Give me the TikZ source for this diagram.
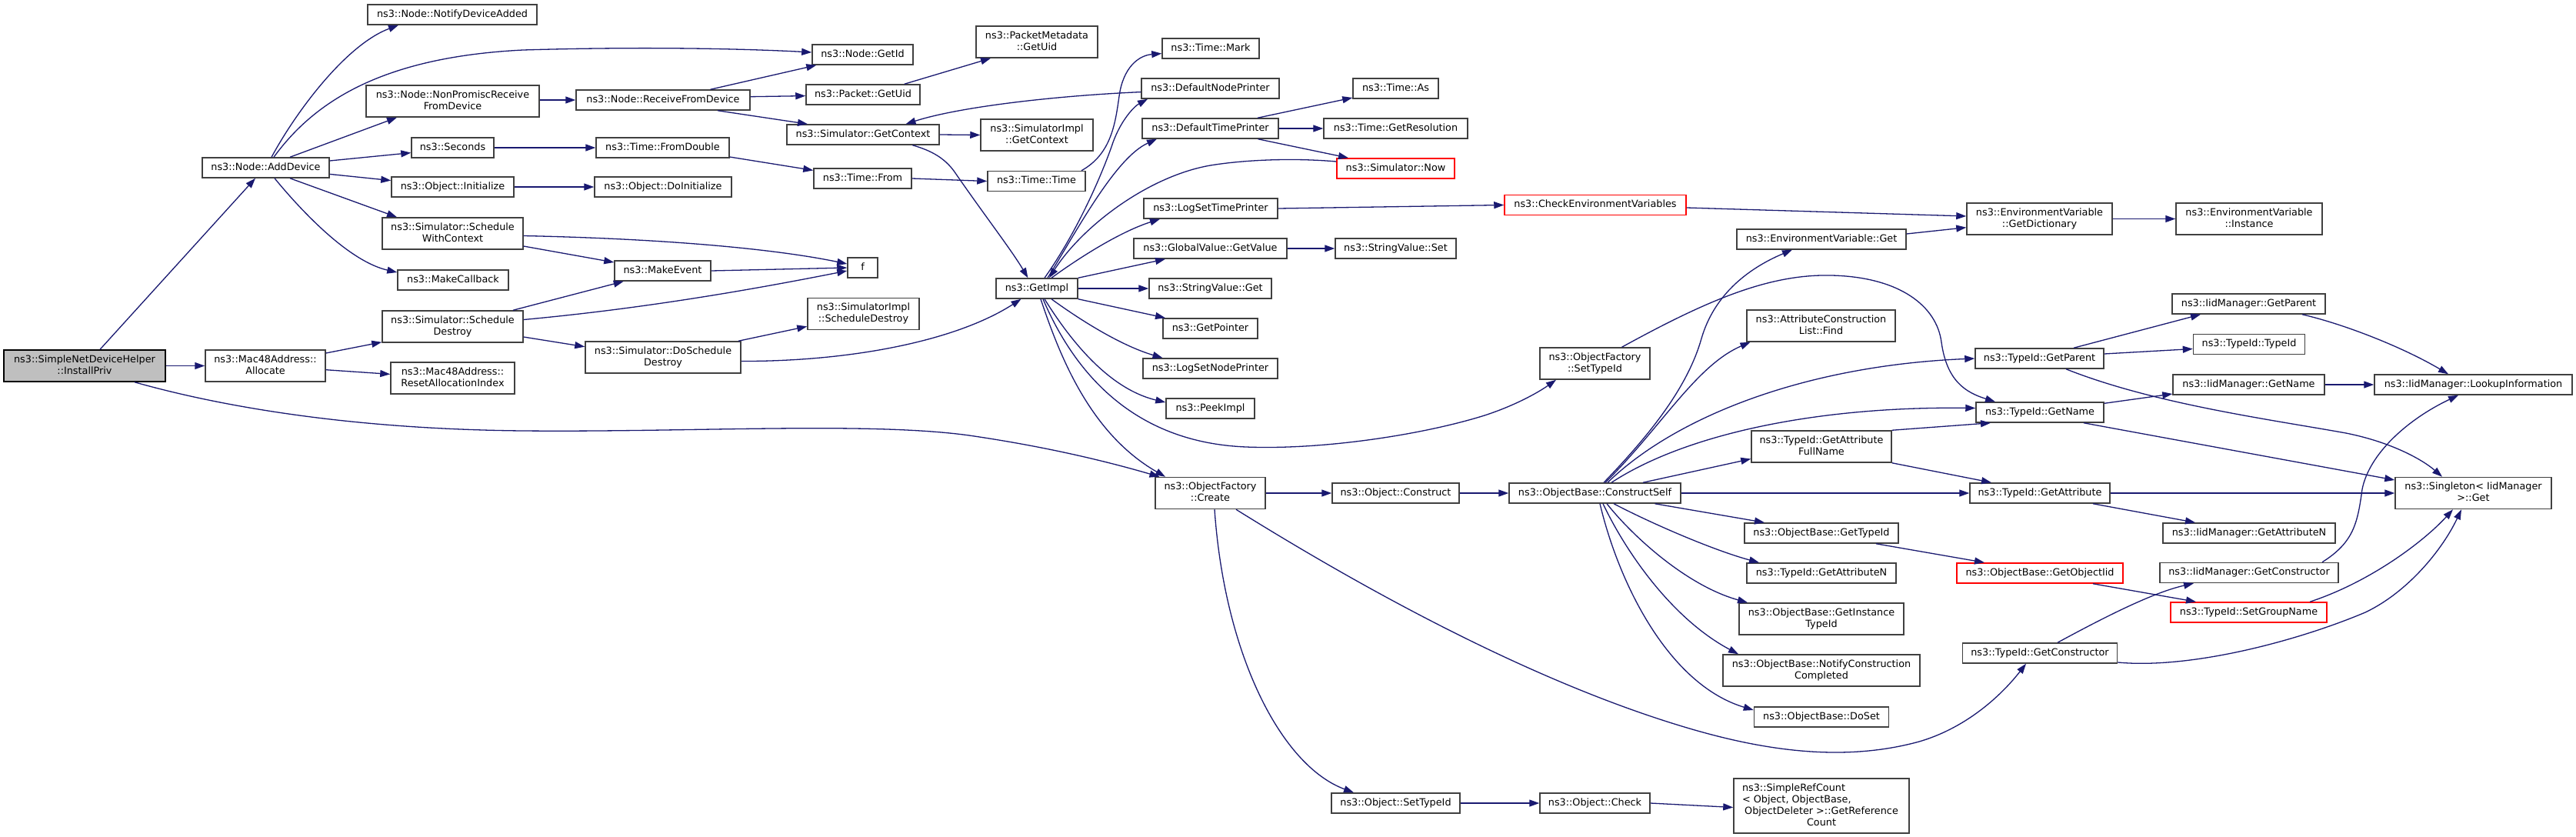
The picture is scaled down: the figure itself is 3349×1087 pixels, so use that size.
\documentclass[tikz,border=0pt]{standalone}
\usepackage{fontspec}
\usetikzlibrary{arrows.meta}
\newfontfamily\dv{DejaVu Sans}
\definecolor{edgeblue}{HTML}{191970}
\definecolor{boxgray}{HTML}{404040}
\definecolor{rootgray}{HTML}{BFBFBF}
\newcommand\ms{\rule[-4.1pt]{0pt}{15pt}}
\tikzset{
  nbox/.style={draw=boxgray, fill=white, line width=1.5pt, inner sep=0pt, align=center,
    font=\dv\fontsize{12.8}{15}\selectfont, minimum height=26pt},
  nb/.style={nbox, minimum width=#1},
  tl/.style={minimum height=41pt},
  rd/.style={draw=red},
  ed/.style={draw=edgeblue, line width=1.3pt, -{Triangle[length=13pt,width=9pt]}},
}
\begin{document}
\begin{tikzpicture}[x=1pt,y=-1pt]
\fill[white] (0,0) rectangle (3349,1087);
\useasboundingbox (0,0) rectangle (3349,1087);
% column 1-2
\node[nb=210pt,tl,fill=rootgray,draw=black] (root) at (110,475.5) {\ms ns3::SimpleNetDeviceHelper\\\ms ::InstallPriv};
\node[nb=165pt] (add) at (345.5,218) {\ms ns3::Node::AddDevice};
\node[nb=156pt,tl] (alloc) at (345,475.5) {\ms ns3::Mac48Address::\\\ms Allocate};
% column 3
\node[nb=220pt] (notify) at (588,19) {\ms ns3::Node::NotifyDeviceAdded};
\node[nb=225pt,tl] (nonprom) at (588.5,131.5) {\ms ns3::Node::NonPromiscReceive\\\ms FromDevice};
\node[nb=107pt] (sec) at (588.5,192) {\ms ns3::Seconds};
\node[nb=159pt] (init) at (588.5,243) {\ms ns3::Object::Initialize};
\node[nb=183pt,tl] (swc) at (588.5,303.5) {\ms ns3::Simulator::Schedule\\\ms WithContext};
\node[nb=144pt] (mcb) at (589,364) {\ms ns3::MakeCallback};
\node[nb=183pt,tl] (sd) at (588.5,424.5) {\ms ns3::Simulator::Schedule\\\ms Destroy};
\node[nb=161pt,tl] (reset) at (588.5,491.5) {\ms ns3::Mac48Address::\\\ms ResetAllocationIndex};
% column 4
\node[nb=226pt] (rfd) at (862,130) {\ms ns3::Node::ReceiveFromDevice};
\node[nb=173pt] (fromd) at (861.5,192) {\ms ns3::Time::FromDouble};
\node[nb=178pt] (doinit) at (862,243) {\ms ns3::Object::DoInitialize};
\node[nb=125pt] (mev) at (861.5,352) {\ms ns3::MakeEvent};
\node[nb=202pt,tl] (dsd) at (862,464.5) {\ms ns3::Simulator::DoSchedule\\\ms Destroy};
% column 5
\node[nb=131pt] (getid) at (1121.5,71) {\ms ns3::Node::GetId};
\node[nb=148pt] (puid) at (1122,123) {\ms ns3::Packet::GetUid};
\node[nb=198pt] (sgc) at (1122,175) {\ms ns3::Simulator::GetContext};
\node[nb=127pt] (tfrom) at (1121.5,232) {\ms ns3::Time::From};
\node[nb=39pt] (f) at (1121.5,348) {\ms f};
\node[nb=145pt,tl] (sisd) at (1122.5,408) {\ms ns3::SimulatorImpl\\\ms ::ScheduleDestroy};
% column 6
\node[nb=158pt,tl] (pmuid) at (1348,54.5) {\ms ns3::PacketMetadata\\\ms ::GetUid};
\node[nb=146pt,tl] (sigc) at (1348,175.5) {\ms ns3::SimulatorImpl\\\ms ::GetContext};
\node[nb=127pt] (ttime) at (1347.5,235.5) {\ms ns3::Time::Time};
\node[nb=106pt] (getimpl) at (1348,375) {\ms ns3::GetImpl};
% column 7
\node[nb=126pt] (mark) at (1574,63) {\ms ns3::Time::Mark};
\node[nb=179pt] (dnp) at (1573.5,115) {\ms ns3::DefaultNodePrinter};
\node[nb=177pt] (dtp) at (1573.5,167) {\ms ns3::DefaultTimePrinter};
\node[nb=174pt] (lstp) at (1574,271) {\ms ns3::LogSetTimePrinter};
\node[nb=199pt] (gvgv) at (1573.5,323) {\ms ns3::GlobalValue::GetValue};
\node[nb=159pt] (svget) at (1573.5,375) {\ms ns3::StringValue::Get};
\node[nb=123pt] (gptr) at (1573.5,427) {\ms ns3::GetPointer};
\node[nb=175pt] (lsnp) at (1573.5,479) {\ms ns3::LogSetNodePrinter};
\node[nb=115pt] (peek) at (1573.5,531) {\ms ns3::PeekImpl};
\node[nb=143pt,tl] (create) at (1573.5,641) {\ms ns3::ObjectFactory\\\ms ::Create};
% column 8
\node[nb=111pt] (tas) at (1814.5,115) {\ms ns3::Time::As};
\node[nb=187pt] (gres) at (1814.5,167) {\ms ns3::Time::GetResolution};
\node[nb=153pt,rd] (now) at (1814.5,219) {\ms ns3::Simulator::Now};
\node[nb=157pt] (svset) at (1814.5,323) {\ms ns3::StringValue::Set};
\node[nb=165pt] (oconst) at (1814.5,641) {\ms ns3::Object::Construct};
\node[nb=167pt] (osti) at (1814.5,1044) {\ms ns3::Object::SetTypeId};
% column 9
\node[nb=236pt,rd] (cev) at (2074,266.5) {\ms ns3::CheckEnvironmentVariables};
\node[nb=143pt,tl] (ofsti) at (2073.5,472.5) {\ms ns3::ObjectFactory\\\ms ::SetTypeId};
\node[nb=223pt] (cself) at (2073.5,641) {\ms ns3::ObjectBase::ConstructSelf};
\node[nb=143pt] (ocheck) at (2073.5,1044) {\ms ns3::Object::Check};
% column 10
\node[nb=220pt] (evget) at (2368,311) {\ms ns3::EnvironmentVariable::Get};
\node[nb=193pt,tl] (acl) at (2367.5,423.5) {\ms ns3::AttributeConstruction\\\ms List::Find};
\node[nb=182pt,tl] (gafn) at (2368,580.5) {\ms ns3::TypeId::GetAttribute\\\ms FullName};
\node[nb=200pt] (obgt) at (2368,693) {\ms ns3::ObjectBase::GetTypeId};
\node[nb=194pt] (tgan) at (2368,745) {\ms ns3::TypeId::GetAttributeN};
\node[nb=214pt,tl] (ogit) at (2368,804.5) {\ms ns3::ObjectBase::GetInstance\\\ms TypeId};
\node[nb=256pt,tl] (oncc) at (2368,871.5) {\ms ns3::ObjectBase::NotifyConstruction\\\ms Completed};
\node[nb=175pt] (doset) at (2368,932) {\ms ns3::ObjectBase::DoSet};
\node[nb=228pt,minimum height=71pt] (src) at (2368,1047.5) {\makebox[206pt][l]{\ms ns3::SimpleRefCount}\\\makebox[206pt][l]{\ms < Object, ObjectBase,}\\\ms ObjectDeleter >::GetReference\\\ms Count};
% column 11
\node[nb=189pt,tl] (gdict) at (2651.5,284.5) {\ms ns3::EnvironmentVariable\\\ms ::GetDictionary};
\node[nb=167pt] (tgp) at (2651.5,466) {\ms ns3::TypeId::GetParent};
\node[nb=166pt] (tgn) at (2652,536) {\ms ns3::TypeId::GetName};
\node[nb=182pt] (tga) at (2652,641) {\ms ns3::TypeId::GetAttribute};
\node[nb=216pt,rd] (goiid) at (2652,745) {\ms ns3::ObjectBase::GetObjectIid};
\node[nb=201pt] (tgc) at (2652,849) {\ms ns3::TypeId::GetConstructor};
% column 12
\node[nb=190pt,tl] (inst) at (2924,284.5) {\ms ns3::EnvironmentVariable\\\ms ::Instance};
\node[nb=199pt] (igp) at (2923.5,395) {\ms ns3::IidManager::GetParent};
\node[nb=145pt] (ttid) at (2924,447.5) {\ms ns3::TypeId::TypeId};
\node[nb=197pt] (ign) at (2923.5,500) {\ms ns3::IidManager::GetName};
\node[nb=224pt] (igan) at (2924,693) {\ms ns3::IidManager::GetAttributeN};
\node[nb=232pt] (igc) at (2924,744.5) {\ms ns3::IidManager::GetConstructor};
\node[nb=203pt,rd] (sgn) at (2923.5,796) {\ms ns3::TypeId::SetGroupName};
% column 13
\node[nb=257pt] (lookup) at (3215.5,500) {\ms ns3::IidManager::LookupInformation};
\node[nb=203pt,tl] (single) at (3215.5,641) {\ms ns3::Singleton< IidManager\\\ms >::Get};

% ---------------- edges
\draw[ed] ([xshift=20pt]root.north) -- ([xshift=-13.5pt]add.south);
\draw[ed] (root.east) -- (alloc.west);
\draw[ed] ([xshift=65pt]root.south) .. controls (300,532) and (470,558) .. (680,560) .. controls (900,562) and (1130,548) .. (1260,566) .. controls (1370,582) and (1450,603) .. ([xshift=-66pt]create.north);
\draw[ed] ([xshift=7.5pt]add.north) .. controls (385,145) and (450,58) .. ([xshift=-70pt]notify.south);
\draw[ed] ([xshift=10.5pt]add.north) .. controls (410,130) and (500,74) .. (680,65) .. controls (850,60) and (980,64) .. ([yshift=3pt]getid.west);
\draw[ed] ([xshift=31.5pt]add.north) -- ([xshift=-72.5pt]nonprom.south);
\draw[ed] ([yshift=9pt]add.east) -- ([yshift=-6.6pt]sec.west);
\draw[ed] ([yshift=-8.4pt]add.east) -- ([yshift=8.4pt]init.west);
\draw[ed] ([xshift=31.5pt]add.south) -- ([xshift=-72.5pt]swc.north);
\draw[ed] ([xshift=11.5pt]add.south) .. controls (395,278) and (455,340) .. ([yshift=10pt]mcb.west);
\draw[ed] ([yshift=16.5pt]alloc.east) -- ([yshift=1pt]sd.south west);
\draw[ed] ([yshift=-5.2pt]alloc.east) -- ([yshift=5.1pt]reset.west);
\draw[ed] ([yshift=1.5pt]nonprom.east) -- (rfd.west);
\draw[ed] (sec.east) -- (fromd.west);
\draw[ed] (init.east) -- (doinit.west);
\draw[ed] ([yshift=-16.5pt]swc.east) -- ([yshift=11pt]mev.west);
\draw[ed] ([yshift=-3pt]swc.east) .. controls (850,310) and (1000,322) .. ([yshift=5pt]f.west);
\draw[ed] ([xshift=78.5pt]sd.north) -- ([xshift=-50.8pt]mev.south);
\draw[ed] ([yshift=9pt]sd.east) .. controls (850,400) and (1000,372) .. ([yshift=-4pt]f.west);
\draw[ed] ([yshift=-13.5pt]sd.east) -- ([yshift=13.8pt]dsd.west);
\draw[ed] ([xshift=61.6pt]rfd.north) -- ([xshift=-60.2pt]getid.south);
\draw[ed] ([yshift=4.3pt]rfd.east) -- ([yshift=-1.6pt]puid.west);
\draw[ed] ([xshift=71pt]rfd.south) -- ([xshift=-72pt]sgc.north);
\draw[ed] ([yshift=-12pt]fromd.east) -- ([yshift=10.6pt]tfrom.west);
\draw[ed] (mev.east) -- (f.west);
\draw[ed] ([xshift=98pt]dsd.north) -- ([yshift=-16.3pt]sisd.west);
\draw[ed] ([yshift=-5pt]dsd.east) .. controls (1100,470) and (1240,445) .. ([xshift=-20.5pt]getimpl.south);
\draw[ed] ([xshift=53.7pt]puid.north) -- ([xshift=-60pt]pmuid.south);
\draw[ed] (sgc.east) -- (sigc.west);
\draw[ed] ([xshift=64.4pt]sgc.south) .. controls (1212,196) and (1228,206) .. (1240,222) .. controls (1280,280) and (1315,325) .. ([xshift=-11.6pt]getimpl.north);
\draw[ed] (tfrom.east) -- (ttime.west);
\draw[ed] ([xshift=58.5pt]ttime.north) .. controls (1445,200) and (1450,160) .. (1455,125) .. controls (1460,88) and (1480,72) .. ([yshift=-6.6pt]mark.west);
\draw[ed] ([yshift=-4.6pt]dnp.west) .. controls (1380,124) and (1250,138) .. ([xshift=55.5pt]sgc.north);
\draw[ed] ([xshift=10pt]getimpl.north) .. controls (1405,295) and (1437,215) .. (1447,185) .. controls (1458,155) and (1475,138) .. ([xshift=-81.5pt]dnp.south);
\draw[ed] ([xshift=14pt]getimpl.north) .. controls (1400,300) and (1450,205) .. ([xshift=-69.5pt]dtp.south);
\draw[ed] ([yshift=9pt]now.west) .. controls (1680,205) and (1620,208) .. (1580,214) .. controls (1500,225) and (1410,290) .. ([xshift=16pt]getimpl.north);
\draw[ed] ([xshift=19pt]getimpl.north) .. controls (1410,330) and (1460,300) .. ([xshift=-66pt]lstp.south);
\draw[ed] (getimpl.north east) -- ([xshift=-58.5pt]gvgv.south);
\draw[ed] (getimpl.east) -- (svget.west);
\draw[ed] (getimpl.south east) -- ([xshift=-58.5pt]gptr.north);
\draw[ed] ([xshift=19pt]getimpl.south) .. controls (1410,420) and (1460,450) .. ([xshift=-62pt]lsnp.north);
\draw[ed] ([xshift=10pt]getimpl.south) .. controls (1390,440) and (1440,505) .. ([yshift=8pt]peek.west);
\draw[ed] ([xshift=5pt]getimpl.south) .. controls (1380,470) and (1420,565) .. ([xshift=-58.5pt]create.north);
\draw[ed] ([xshift=8pt]getimpl.south) .. controls (1395,480) and (1470,575) .. (1620,581) .. controls (1720,585) and (1850,565) .. (1930,540) .. controls (1970,527) and (2000,510) .. ([xshift=-50.5pt]ofsti.south);
\draw[ed] ([xshift=61.5pt]dtp.north) -- ([yshift=-12pt]tas.west);
\draw[ed] (dtp.east) -- (gres.west);
\draw[ed] ([xshift=62pt]dtp.south) -- ([xshift=-61.5pt]now.north);
\draw[ed] (lstp.east) -- (cev.west);
\draw[ed] (gvgv.east) -- (svset.west);
\draw[ed] ([xshift=35pt]ofsti.north) .. controls (2220,390) and (2300,356) .. (2381,358) .. controls (2470,360) and (2518,398) .. (2524,445) .. controls (2531,495) and (2555,510) .. ([xshift=-58pt]tgn.north);
\draw[ed] ([xshift=11.5pt]cself.north) .. controls (2150,560) and (2195,500) .. (2212,440) .. controls (2228,385) and (2270,350) .. ([xshift=-38pt]evget.south);
\draw[ed] ([xshift=13.5pt]cself.north) .. controls (2160,555) and (2205,475) .. ([xshift=-92pt]acl.south);
\draw[ed] ([xshift=16.5pt]cself.north) .. controls (2180,540) and (2350,475) .. (tgp.west);
\draw[ed] ([xshift=21.5pt]cself.north) .. controls (2190,565) and (2360,528) .. ([yshift=5.5pt]tgn.west);
\draw[ed] ([xshift=62.5pt]cself.north) -- ([yshift=-16pt]gafn.west);
\draw[ed] (cself.east) -- (tga.west);
\draw[ed] ([xshift=78pt]cself.south) -- ([xshift=-74pt]obgt.north);
\draw[ed] ([xshift=24.5pt]cself.south) .. controls (2150,682) and (2230,716) .. ([xshift=-81pt]tgan.north);
\draw[ed] ([xshift=15.5pt]cself.south) .. controls (2125,700) and (2195,762) .. ([xshift=-96pt]ogit.north);
\draw[ed] ([xshift=10.5pt]cself.south) .. controls (2115,720) and (2175,805) .. ([xshift=-108pt]oncc.north);
\draw[ed] ([xshift=6.5pt]cself.south) .. controls (2105,760) and (2170,890) .. ([yshift=9pt]doset.west);
\draw[ed] ([xshift=33.5pt]create.south) .. controls (1780,770) and (2000,890) .. (2200,948) .. controls (2300,977) and (2400,990) .. (2495,964) .. controls (2560,945) and (2605,900) .. ([xshift=-18pt]tgc.south);
\draw[ed] (create.east) -- (oconst.west);
\draw[ed] ([xshift=5.5pt]create.south) .. controls (1592,850) and (1665,995) .. ([xshift=-54.5pt]osti.north);
\draw[ed] (oconst.east) -- (cself.west);
\draw[ed] (osti.east) -- (ocheck.west);
\draw[ed] (ocheck.east) -- ([yshift=-2pt]src.west);
\draw[ed] ([xshift=71pt]obgt.south) -- ([xshift=-72pt]goiid.north);
\draw[ed] ([xshift=69pt]goiid.south) -- ([xshift=-68.5pt]sgn.north);
\draw[ed] ([xshift=23pt]tgc.north) .. controls (2740,800) and (2800,770) .. ([xshift=-72pt]igc.south);
\draw[ed] ([yshift=-12pt]tgc.east) .. controls (2850,870) and (2990,832) .. (3075,796) .. controls (3130,770) and (3175,715) .. ([xshift=-15.5pt]single.south);
\draw[ed] ([xshift=79.5pt]sgn.north) .. controls (3080,757) and (3150,705) .. ([xshift=-26.5pt]single.south);
\draw[ed] ([xshift=95pt]igc.north) .. controls (3060,705) and (3065,680) .. (3071,636) .. controls (3080,590) and (3130,545) .. ([xshift=-19.5pt]lookup.south);
\draw[ed] ([xshift=69.5pt]igp.south) .. controls (3050,422) and (3125,452) .. ([xshift=-32.5pt]lookup.north);
\draw[ed] (ign.east) -- (lookup.west);
\draw[ed] ([xshift=44.5pt]tgp.north) -- ([xshift=-62.5pt]igp.south);
\draw[ed] ([yshift=6pt]tgp.east) -- ([yshift=-6pt]ttid.west);
\draw[ed] ([xshift=34.5pt]tgp.south) .. controls (2800,525) and (2950,545) .. (3050,563) .. controls (3110,575) and (3150,598) .. ([xshift=-40.5pt]single.north);
\draw[ed] ([yshift=11.7pt]tgn.east) -- ([yshift=-12pt]ign.west);
\draw[ed] ([xshift=57pt]tgn.south) -- ([yshift=17pt]single.west);
\draw[ed] (tga.east) -- (single.west);
\draw[ed] ([xshift=69pt]tga.south) -- ([xshift=-70pt]igan.north);
\draw[ed] (gafn.north east) -- ([xshift=-64pt]tgn.south);
\draw[ed] (gafn.south east) -- ([xshift=-63pt]tga.north);
\draw[ed] ([yshift=7pt]evget.east) -- ([yshift=-11.2pt]gdict.west);
\draw[ed] ([yshift=-3.5pt]cev.east) -- ([yshift=3.5pt]gdict.west);
\draw[ed] (gdict.east) -- (inst.west);
\end{tikzpicture}
\end{document}
